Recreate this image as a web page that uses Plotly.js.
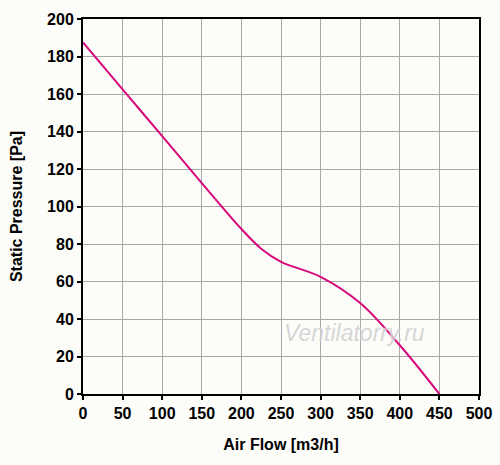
<!DOCTYPE html>
<html><head><meta charset="utf-8">
<script src="https://cdn.plot.ly/plotly-3.0.1.min.js"></script>
<style>html,body{margin:0;padding:0;background:#fcfcf9;}</style>
</head><body>
<div id="chart" style="width:500px;height:465px;"></div>
<script>
const airFlow = [0, 50, 100, 150, 200, 225, 250, 300, 350, 400, 450];
const staticPressure = [187.5, 162.5, 137.5, 112.5, 88, 77.5, 70.5, 62.5, 48.5, 26, 0];
const xTicks = [0, 50, 100, 150, 200, 250, 300, 350, 400, 450, 500];
const yTicks = [0, 20, 40, 60, 80, 100, 120, 140, 160, 180, 200];
const fam = 'Liberation Sans, Arial, sans-serif';
Plotly.newPlot('chart', [{
  x: airFlow, y: staticPressure, type: 'scatter', mode: 'lines',
  line: {color: '#d6087a', width: 2, shape: 'spline', smoothing: 1},
  hoverinfo: 'skip'
}], {
  width: 500, height: 465,
  margin: {l: 83, r: 21, t: 19, b: 71},
  paper_bgcolor: '#fcfcf9', plot_bgcolor: '#fcfcf9',
  showlegend: false,
  font: {family: fam, size: 16, color: '#000'},
  xaxis: {
    range: [0, 500], tickvals: xTicks, ticktext: xTicks.map(v => '<b>' + v + '</b>'),
    showgrid: true, gridcolor: '#a8a8a8', gridwidth: 1,
    showline: true, linecolor: '#000', linewidth: 2, mirror: true,
    ticks: 'outside', ticklen: 4, tickwidth: 2, tickcolor: '#000',
    zeroline: false,
    tickfont: {family: fam, size: 16, color: '#000'},
    title: {text: '<b>Air Flow [m3/h]</b>', font: {family: fam, size: 16, color: '#000'}, standoff: 18}
  },
  yaxis: {
    range: [0, 200], tickvals: yTicks, ticktext: yTicks.map(v => '<b>' + v + '</b>'),
    showgrid: true, gridcolor: '#a8a8a8', gridwidth: 1,
    showline: true, linecolor: '#000', linewidth: 2, mirror: true,
    ticks: 'outside', ticklen: 4, tickwidth: 2, tickcolor: '#000',
    zeroline: false,
    tickfont: {family: fam, size: 16, color: '#000'},
    title: {text: '<b>Static Pressure [Pa]</b>', font: {family: fam, size: 16, color: '#000'}, standoff: 20}
  },
  annotations: [{
    text: '<i>Ventilatorry.ru</i>', xref: 'x', yref: 'y', x: 343, y: 32.5,
    showarrow: false,
    font: {family: fam, size: 23, color: 'rgba(200,200,200,0.75)', shadow: '0 0 2px #ffffff'}
  }]
}, {displayModeBar: false, staticPlot: true});
</script>
</body></html>
